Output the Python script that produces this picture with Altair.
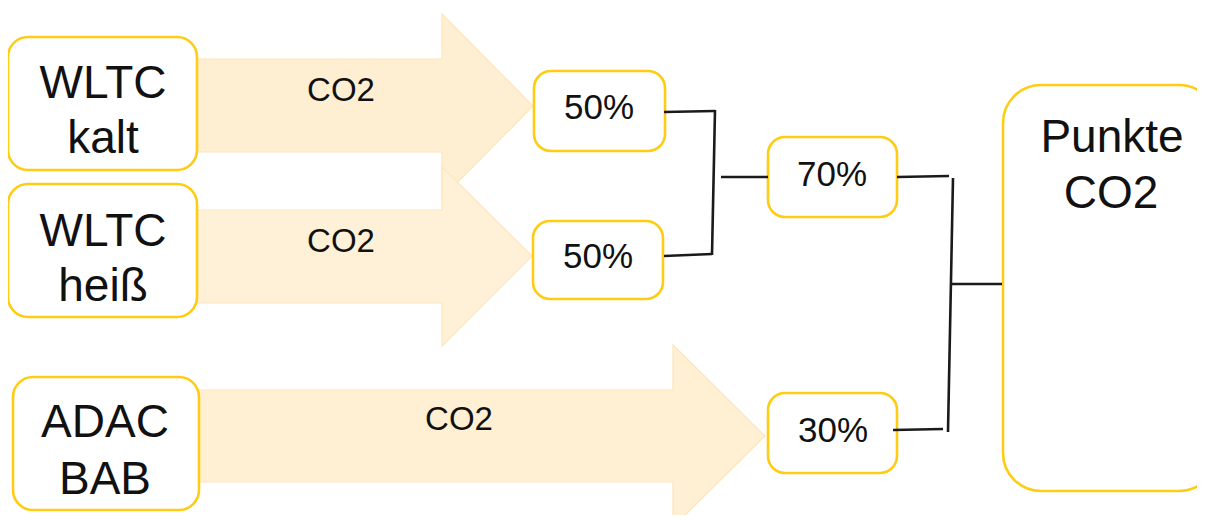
import altair as alt
import pandas as pd

# ---- plot area (page pixels: chart starts at 8,8) ----
W, H = 1189, 507
XD = [8, 8 + W]
YD = [8, 8 + H]

FONT = "Liberation Sans"
TEXT_COLOR = "#111111"
BOX_STROKE = "#FFCC14"
LINE_COLOR = "#1a1a1a"
ARROW_EDGE = "#FDE5BD"

# ---- boxes ----
box_name = ["WLTC kalt", "WLTC heiß", "ADAC BAB", "50% a", "50% b", "70%", "30%", "Punkte CO2"]
box_kind = ["src", "src", "src", "pct", "pct", "pct", "pct", "big"]
box_x1 = [8, 8, 13, 534, 533, 768, 768, 1003]
box_x2 = [197, 197, 199, 665, 663, 897, 897, 1217]
box_y1 = [37, 184, 377, 71, 221, 137, 393, 85]
box_y2 = [170, 317, 510, 151, 299, 217, 473, 491]

# ---- arrows ----
arrow_id = ["a1", "a2", "a3"]
arrow_fill = ["#FFEFD2", "#FFF1D8", "#FFEFD3"]
arrow_x_start = [196, 196, 199]
arrow_x_head = [442, 442, 673]
arrow_x_tip = [533, 532, 765]
arrow_shaft_top = [59, 210, 390]
arrow_shaft_bot = [152, 303, 482]
arrow_head_top = [14, 167, 345]
arrow_head_bot = [198, 346, 527]
arrow_tip_y = [106, 256, 436]

# ---- connector lines ----
line_x1 = [664, 715, 664, 721, 897, 953, 893, 952]
line_y1 = [112, 110, 256, 177, 177, 178, 430, 284]
line_x2 = [715, 712, 712, 768, 949, 948, 943, 1002]
line_y2 = [111, 255, 254, 177, 176, 432, 429, 284]

# ---- texts ----
big_text = ["WLTC", "kalt", "WLTC", "heiß", "ADAC", "BAB", "Punkte", "CO2"]
big_x = [103, 103, 103, 103, 105, 105, 1112, 1111]
big_y = [98, 153, 246, 301, 437, 494, 152, 208]

pct_text = ["50%", "50%", "70%", "30%"]
pct_x = [599, 598, 832, 833]
pct_y = [119, 268, 186, 442]

flow_text = ["CO2", "CO2", "CO2"]
flow_x = [341, 341, 459]
flow_y = [101, 252, 430]

xs = alt.Scale(domain=XD, zero=False, nice=False)
ys = alt.Scale(domain=YD, zero=False, nice=False, reverse=True)

boxes = pd.DataFrame({"name": box_name, "kind": box_kind, "x1": box_x1, "x2": box_x2,
                      "y1": box_y1, "y2": box_y2})

shaft = pd.DataFrame({"arrow": arrow_id, "x1": arrow_x_start, "x2": arrow_x_head,
                      "y1": arrow_shaft_top, "y2": arrow_shaft_bot})

head_rows, edge_rows = [], []
for k, aid in enumerate(arrow_id):
    head_rows.append({"arrow": aid, "x": arrow_x_head[k], "yt": arrow_head_top[k], "yb": arrow_head_bot[k]})
    head_rows.append({"arrow": aid, "x": arrow_x_tip[k], "yt": arrow_tip_y[k], "yb": arrow_tip_y[k]})
    outline = [
        (arrow_x_start[k], arrow_shaft_top[k]),
        (arrow_x_head[k], arrow_shaft_top[k]),
        (arrow_x_head[k], arrow_head_top[k]),
        (arrow_x_tip[k], arrow_tip_y[k]),
        (arrow_x_head[k], arrow_head_bot[k]),
        (arrow_x_head[k], arrow_shaft_bot[k]),
        (arrow_x_start[k], arrow_shaft_bot[k]),
    ]
    for i, (px, py) in enumerate(outline):
        edge_rows.append({"arrow": aid, "i": i, "x": px, "y": py})
heads = pd.DataFrame(head_rows)
edges = pd.DataFrame(edge_rows)

lines = pd.DataFrame({"x1": line_x1, "y1": line_y1, "x2": line_x2, "y2": line_y2})
bigdf = pd.DataFrame({"t": big_text, "x": big_x, "y": big_y})
pctdf = pd.DataFrame({"t": pct_text, "x": pct_x, "y": pct_y})
flowdf = pd.DataFrame({"t": flow_text, "x": flow_x, "y": flow_y})

layers = []
for k, aid in enumerate(arrow_id):
    layers.append(
        alt.Chart(shaft).transform_filter(alt.datum.arrow == aid)
        .mark_rect(fill=arrow_fill[k], clip=True)
        .encode(x=alt.X("x1:Q", scale=xs, axis=None), x2="x2:Q",
                y=alt.Y("y1:Q", scale=ys, axis=None), y2="y2:Q")
    )
    layers.append(
        alt.Chart(heads).transform_filter(alt.datum.arrow == aid)
        .mark_area(orient="vertical", fill=arrow_fill[k], opacity=1, clip=True)
        .encode(x=alt.X("x:Q", scale=xs, axis=None),
                y=alt.Y("yt:Q", scale=ys, axis=None),
                y2="yb:Q")
    )
    layers.append(
        alt.Chart(edges).transform_filter(alt.datum.arrow == aid)
        .mark_line(color=ARROW_EDGE, strokeWidth=1.2, clip=True)
        .encode(x=alt.X("x:Q", scale=xs, axis=None),
                y=alt.Y("y:Q", scale=ys, axis=None),
                order="i:Q")
    )

for kind, r in [("src", 20), ("pct", 17), ("big", 38)]:
    layers.append(
        alt.Chart(boxes).transform_filter(alt.datum.kind == kind)
        .mark_rect(fill="white", stroke=BOX_STROKE, strokeWidth=2.6,
                   cornerRadius=r, clip=True)
        .encode(x=alt.X("x1:Q", scale=xs, axis=None), x2="x2:Q",
                y=alt.Y("y1:Q", scale=ys, axis=None), y2="y2:Q")
    )

layers.append(
    alt.Chart(lines).mark_rule(color=LINE_COLOR, strokeWidth=2.6)
    .encode(x=alt.X("x1:Q", scale=xs, axis=None), x2="x2:Q",
            y=alt.Y("y1:Q", scale=ys, axis=None), y2="y2:Q")
)

for df, fs in [(bigdf, 46), (pctdf, 35), (flowdf, 33)]:
    layers.append(
        alt.Chart(df).mark_text(font=FONT, fontSize=fs, color=TEXT_COLOR,
                                align="center", baseline="alphabetic")
        .encode(x=alt.X("x:Q", scale=xs, axis=None),
                y=alt.Y("y:Q", scale=ys, axis=None),
                text="t:N")
    )

chart = alt.layer(*layers).properties(
    width=W, height=H, padding=0,
    autosize=alt.AutoSizeParams(type="fit", contains="padding"),
).configure_view(stroke=None)

chart.save("out.html", embed_options={"renderer": "svg", "actions": False})
